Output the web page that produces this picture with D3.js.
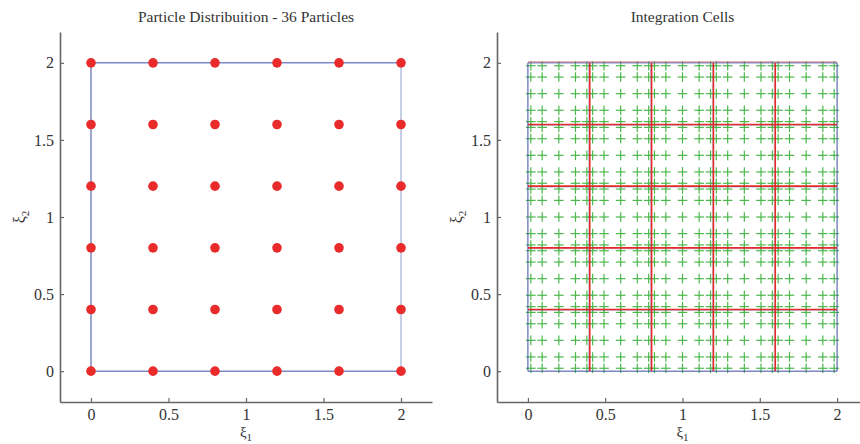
<!DOCTYPE html>
<html>
<head>
<meta charset="utf-8">
<script src="https://cdn.jsdelivr.net/npm/d3@7"></script>
<style>
  body { margin: 0; background: #fff; }
  svg text { font-family: "Liberation Serif", "DejaVu Serif", serif; fill: #333; }
</style>
</head>
<body>
<div id="container"></div>
<script>
// particle coordinates along each direction (6 x 6 = 36 particles)
const particleCoords = [0, 0.4, 0.8, 1.2, 1.6, 2];
// integration cell edges (5 x 5 cells)
const cellEdges = [0, 0.4, 0.8, 1.2, 1.6, 2];
// gauss point positions inside one cell, as fraction of the cell width
const gaussFrac = [0.0469, 0.2308, 0.5, 0.7692, 0.9531];
const tickVals = [0, 0.5, 1, 1.5, 2];
const tickLabels = ["0", "0.5", "1", "1.5", "2"];
const titles = ["Particle Distribuition - 36 Particles", "Integration Cells"];

const W = 860, H = 444;
const svg = d3.select("#container").append("svg").attr("width", W).attr("height", H);

const panels = [
  { x0: 60, x1: 432, title: titles[0] },
  { x0: 497, x1: 868, title: titles[1] }
];
const yTop = 32, yBot = 402;
const axisCol = "#666";
const blue = "#3b4ea3";
const serif = "'Liberation Serif', 'DejaVu Serif', serif";

function setupPanel(p) {
  const x = d3.scaleLinear().domain([-0.2, 2.2]).range([p.x0, p.x1]);
  const y = d3.scaleLinear().domain([-0.2, 2.2]).range([yBot, yTop]);
  const g = svg.append("g");

  const xa = g.append("g").attr("transform", `translate(0,${yBot})`)
    .call(d3.axisBottom(x).tickValues(tickVals).tickFormat((d, i) => tickLabels[i]).tickSizeInner(-4).tickSizeOuter(0).tickPadding(7));
  const ya = g.append("g").attr("transform", `translate(${p.x0},0)`)
    .call(d3.axisLeft(y).tickValues(tickVals).tickFormat((d, i) => tickLabels[i]).tickSizeInner(-4).tickSizeOuter(0).tickPadding(6));
  [xa, ya].forEach(a => {
    a.attr("font-family", serif).attr("font-size", 16);
    a.select(".domain").attr("stroke", axisCol).attr("stroke-width", 1.6);
    a.selectAll(".tick line").attr("stroke", axisCol).attr("stroke-width", 1.2);
    a.selectAll(".tick text").attr("fill", "#333");
  });

  g.append("text").attr("x", (p.x0 + p.x1) / 2).attr("y", 22)
    .attr("text-anchor", "middle").style("font-size", "15.5px").text(p.title);

  const xl = g.append("text").attr("x", (p.x0 + Math.min(p.x1, 868)) / 2).attr("y", 437)
    .attr("text-anchor", "middle").style("font-size", "15px");
  xl.append("tspan").text("ξ");
  xl.append("tspan").attr("dy", 4).style("font-size", "11px").text("1");

  const yl = g.append("text").attr("transform", `translate(${p.x0 - 35},${(yTop + yBot) / 2}) rotate(-90)`)
    .attr("text-anchor", "middle").style("font-size", "16px");
  yl.append("tspan").text("ξ");
  yl.append("tspan").attr("dy", 4).style("font-size", "11px").text("2");

  return { g, x, y };
}

// ---- left: particle distribution
{
  const { g, x, y } = setupPanel(panels[0]);
  const a = x(0), b = x(2), c = y(0), d = y(2);
  g.append("line").attr("x1", a).attr("x2", b).attr("y1", c).attr("y2", c).attr("stroke", blue);
  g.append("line").attr("x1", a).attr("x2", b).attr("y1", d).attr("y2", d).attr("stroke", blue);
  g.append("line").attr("x1", a).attr("x2", a).attr("y1", c).attr("y2", d).attr("stroke", blue);
  g.append("line").attr("x1", b).attr("x2", b).attr("y1", c).attr("y2", d).attr("stroke", "#8fa0d0");

  const pts = d3.cross(particleCoords, particleCoords);
  g.selectAll("circle").data(pts).enter().append("circle")
    .attr("cx", p => x(p[0])).attr("cy", p => y(p[1])).attr("r", 4.8)
    .attr("fill", "#ea2b2b");
}

// ---- right: integration cells
{
  const { g, x, y } = setupPanel(panels[1]);
  const gp = [];
  for (let i = 0; i < cellEdges.length - 1; i++) {
    const w = cellEdges[i + 1] - cellEdges[i];
    gaussFrac.forEach(f => gp.push(cellEdges[i] + f * w));
  }
  const pts = d3.cross(gp, gp);
  const s = 4.8;
  const plus = g.append("g").attr("stroke", "#4cb84c").attr("stroke-width", 1.2);
  pts.forEach(p => {
    const px = x(p[0]), py = y(p[1]);
    plus.append("line").attr("x1", px - s).attr("x2", px + s).attr("y1", py).attr("y2", py);
    plus.append("line").attr("x1", px).attr("x2", px).attr("y1", py - s).attr("y2", py + s);
  });

  // cell boundaries (blue) then red interior lines
  cellEdges.forEach(e => {
    const outer = e === 0 || e === 2;
    g.append("line").attr("x1", x(e) - (outer ? 0 : 1)).attr("x2", x(e) - (outer ? 0 : 1)).attr("y1", y(0)).attr("y2", y(2))
      .attr("stroke", blue).attr("stroke-width", 1).attr("opacity", outer ? 1 : 0.3);
    g.append("line").attr("x1", x(0)).attr("x2", x(2)).attr("y1", y(e) + (outer ? 0 : 1)).attr("y2", y(e) + (outer ? 0 : 1))
      .attr("stroke", blue).attr("stroke-width", 1).attr("opacity", outer ? 1 : 0.3);
  });
  cellEdges.slice(1, -1).forEach(e => {
    g.append("line").attr("x1", x(e)).attr("x2", x(e)).attr("y1", y(0)).attr("y2", y(2))
      .attr("stroke", "#e52a2a").attr("stroke-width", 1.6);
    g.append("line").attr("x1", x(0)).attr("x2", x(2)).attr("y1", y(e)).attr("y2", y(e))
      .attr("stroke", "#e52a2a").attr("stroke-width", 1.6);
  });
  g.append("line").attr("x1", x(0)).attr("x2", x(2)).attr("y1", y(2) - 1).attr("y2", y(2) - 1)
    .attr("stroke", "#e08890").attr("stroke-width", 1);
}
</script>
</body>
</html>
